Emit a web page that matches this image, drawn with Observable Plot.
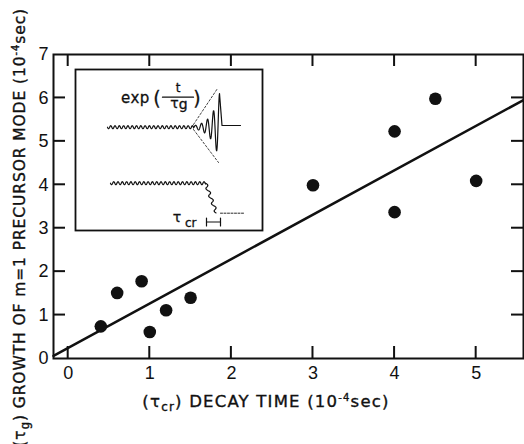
<!DOCTYPE html>
<html><head><meta charset="utf-8">
<script src="https://cdn.jsdelivr.net/npm/d3@7"></script>
<script src="https://cdn.jsdelivr.net/npm/@observablehq/plot@0.6"></script>
<style>body{margin:0;background:#fff}</style>
</head><body><div id="chart"></div>
<script>
// ---- data ----
const decayTime  = [0.4, 0.6, 0.9, 1.0, 1.2, 1.5, 3.0, 4.0, 4.0, 4.5, 5.0];   // tau_cr (1e-4 s)
const growthTime = [0.74, 1.51, 1.78, 0.61, 1.11, 1.40, 3.99, 5.23, 3.37, 5.98, 4.09]; // tau_g (1e-4 s)
const fitX = [-0.18, 5.58];
const fitY = [0.06, 5.95];
const xTicks = [0, 1, 2, 3, 4, 5];
const yTicks = [0, 1, 2, 3, 4, 5, 6, 7];
const yInnerTicks = [1, 2, 3, 4, 5, 6];

const points = decayTime.map((x, i) => ({x, y: growthTime[i]}));
const fit = fitX.map((x, i) => ({x, y: fitY[i]}));

const W = 524, H = 444, mL = 53, mR = 1, mT = 54, mB = 86;
const xDom = [-0.18, 5.58], yDom = [0, 7];
const fw = W - mL - mR, fh = H - mT - mB, tk = 12, tw = 2;
const ux = (xDom[1] - xDom[0]) / fw, uy = (yDom[1] - yDom[0]) / fh;  // data units per pixel

const chart = Plot.plot({
  width: W, height: H, marginLeft: mL, marginRight: mR, marginTop: mT, marginBottom: mB,
  style: {fontFamily: "'Liberation Sans Narrow', sans-serif", fontSize: "18px", color: "#111", background: "#fff"},
  x: {domain: xDom},
  y: {domain: yDom},
  marks: [
    Plot.axisX(xTicks, {tickSize: 0, tickPadding: 8, label: null, stroke: "#111", strokeWidth: 0.4}),
    Plot.axisY(yTicks, {tickSize: 0, tickPadding: 5, label: null, stroke: "#111", strokeWidth: 0.4}),
    // inward ticks drawn as thin filled bars
    Plot.rect(xTicks, {x1: d => d - ux * tw / 2, x2: d => d + ux * tw / 2, y1: () => yDom[0], y2: () => yDom[0] + uy * tk, fill: "#111"}),
    Plot.rect(xTicks, {x1: d => d - ux * tw / 2, x2: d => d + ux * tw / 2, y1: () => yDom[1] - uy * tk, y2: () => yDom[1], fill: "#111"}),
    Plot.rect(yInnerTicks, {y1: d => d - uy * tw / 2, y2: d => d + uy * tw / 2, x1: () => xDom[0], x2: () => xDom[0] + ux * tk, fill: "#111"}),
    Plot.rect(yInnerTicks, {y1: d => d - uy * tw / 2, y2: d => d + uy * tw / 2, x1: () => xDom[1] - ux * tk, x2: () => xDom[1], fill: "#111"}),
    Plot.frame({strokeWidth: 2}),
    Plot.line(fit, {x: "x", y: "y", strokeWidth: 2.5}),
    Plot.dot(points, {x: "x", y: "y", r: 6.3, fill: "#111", stroke: "none"})
  ]
});
document.getElementById("chart").appendChild(chart);
const svg = d3.select(chart);

// axis titles
function label(sel, parts) {
  for (const p of parts) {
    const t = sel.append("tspan").text(p.t);
    if (p.dy) t.attr("dy", p.dy);
    if (p.fs) t.style("font-size", p.fs);
  }
}
const yl = svg.append("text")
  .attr("transform", "translate(25,8) rotate(-90)")
  .attr("text-anchor", "end").attr("fill", "#111").attr("stroke", "#111").attr("stroke-width", 0.35)
  .style("font-family", "'DejaVu Sans', sans-serif").style("font-size", "15.5px").style("letter-spacing", "0.9px");
label(yl, [{t: "(τ"}, {t: "g", dy: 4, fs: "12px"}, {t: ") GROWTH OF m=1 PRECURSOR MODE (10", dy: -4},
           {t: "-4", dy: -6, fs: "10px"}, {t: "sec)", dy: 6}]);

const xl = svg.append("text")
  .attr("x", 266).attr("y", 407)
  .attr("text-anchor", "middle").attr("fill", "#111").attr("stroke", "#111").attr("stroke-width", 0.35)
  .style("font-family", "'DejaVu Sans', sans-serif").style("font-size", "16.5px").style("letter-spacing", "1.2px");
label(xl, [{t: "(τ"}, {t: "cr", dy: 4, fs: "12px"}, {t: ") DECAY TIME (10", dy: -4},
           {t: "-4", dy: -6, fs: "10px"}, {t: "sec)", dy: 6}]);

// ---- inset schematic (illustration, in inset pixel units) ----
const base1 = 57.7, base2 = 113.7;
const wave1 = [];
for (let x = 32; x <= 118; x += 0.25) wave1.push({x, y: base1 + 1.5 * Math.sin(2 * Math.PI * (x - 32) / 4.3)});
const k = Math.log(33.7 / 1.5) / 26;
for (let x = 118; x <= 144; x += 0.2) {
  const A = 1.5 * Math.exp(k * (x - 118));
  wave1.push({x, y: base1 - A * Math.cos(2 * Math.PI * (144 - x) / 6)});
}
wave1.push({x: 146.5, y: 56}, {x: 165, y: 56});
const env = [[{x: 118, y: 55}, {x: 142, y: 19}], [{x: 118, y: 60}, {x: 143, y: 93}]];
const wave2 = [];
for (let x = 35; x <= 130; x += 0.25) wave2.push({x, y: base2 + 1.5 * Math.sin(2 * Math.PI * (x - 35) / 4.3)});
for (let s = 0; s <= 1; s += 0.01) wave2.push({x: 130 + 11 * s + 1.6 * Math.sin(2 * Math.PI * 4 * s), y: base2 + 30 * s});
const flat2 = [{x: 145, y: base2 + 30}, {x: 168, y: base2 + 30}];

const inset = Plot.plot({
  width: 187, height: 161, margin: 0,
  x: {domain: [0, 187], axis: null}, y: {domain: [161, 0], axis: null},
  marks: [
    Plot.frame({strokeWidth: 1.8, fill: "#fff", stroke: "#111"}),
    Plot.line(wave1, {x: "x", y: "y", strokeWidth: 1.2}),
    ...env.map(e => Plot.line(e, {x: "x", y: "y", strokeWidth: 0.8, strokeDasharray: "2,2"})),
    Plot.line(wave2, {x: "x", y: "y", strokeWidth: 1.2}),
    Plot.line(flat2, {x: "x", y: "y", strokeWidth: 0.9, strokeDasharray: "2,1.5"}),
    Plot.line([{x: 87, y: 27.7}, {x: 118, y: 27.7}], {x: "x", y: "y", strokeWidth: 1.3}),
    Plot.line([{x: 131, y: 152.5}, {x: 145, y: 152.5}], {x: "x", y: "y", strokeWidth: 1.2}),
    Plot.line([{x: 131, y: 148.5}, {x: 131, y: 156.5}], {x: "x", y: "y", strokeWidth: 1.2}),
    Plot.line([{x: 145, y: 148.5}, {x: 145, y: 156.5}], {x: "x", y: "y", strokeWidth: 1.2})
  ]
});
const g = svg.append("g").attr("transform", "translate(75,69)");
for (const child of [...inset.childNodes]) if (child.nodeName !== "style") g.node().appendChild(child);

const tf = (x, y, s, fs, anchor = "middle") => g.append("text").attr("x", x).attr("y", y).text(s)
  .attr("text-anchor", anchor).attr("fill", "#111").attr("stroke", "#111").attr("stroke-width", 0.3)
  .style("font-family", "'DejaVu Sans', sans-serif").style("font-size", fs);
tf(46, 34, "exp", "15px", "start").style("letter-spacing", "0.5px");
tf(82, 36, "(", "19px");
tf(122, 36, ")", "19px");
tf(103, 23, "t", "12px");
const tgt = tf(104, 39, "τ", "14px");
tgt.append("tspan").attr("dy", 1).text("g");
tf(102, 153, "τ", "14px");
tf(110, 158, "cr", "12px", "start");
</script></body></html>
